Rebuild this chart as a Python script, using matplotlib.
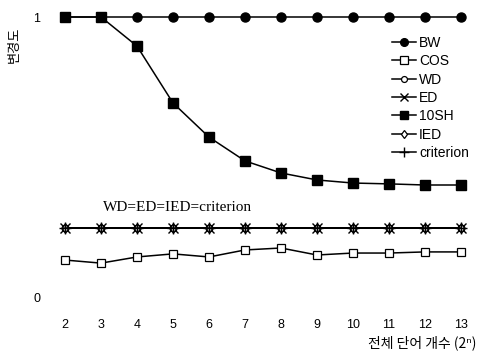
import numpy as np
import matplotlib.pyplot as plt

plt.rcParams['font.family'] = ['Liberation Sans', 'DejaVu Sans']

# word count exponent (2^n)
x = [2, 3, 4, 5, 6, 7, 8, 9, 10, 11, 12, 13]

bw = [1.0] * 12
cos = [0.132, 0.121, 0.143, 0.154, 0.143, 0.168, 0.175, 0.150, 0.157, 0.157, 0.161, 0.161]
wd = [0.246] * 12
ed = [0.246] * 12
sh10 = [1.0, 1.0, 0.896, 0.693, 0.571, 0.486, 0.443, 0.418, 0.407, 0.404, 0.400, 0.400]
ied = [0.246] * 12
criterion = [0.246] * 12

fig = plt.figure(figsize=(4.81, 3.57), dpi=100)
ax = fig.add_axes([47 / 481, 46 / 357, 432 / 481, 308 / 357])

lw = 1.1
ax.plot(x, bw, color='black', lw=lw, marker='o', ms=6.5, label='BW', clip_on=False)
ax.plot(x, cos, color='black', lw=lw, marker='s', ms=6, mfc='white', mew=0.9, label='COS')
ax.plot(x, wd, color='black', lw=lw, marker='o', ms=5, mfc='white', mew=0.9, label='WD')
ax.plot(x, ed, color='black', lw=lw, marker='x', ms=7.5, mew=1.0, label='ED')
ax.plot(x, sh10, color='black', lw=lw, marker='s', ms=6.5, label='10SH', clip_on=False)
ax.plot(x, ied, color='black', lw=lw, marker='d', ms=5, mfc='white', mew=0.9, label='IED')
ax.plot(x, criterion, color='black', lw=lw, marker='+', ms=9, mew=1.0, label='criterion')

ax.set_xlim(1.5, 13.5)
ax.set_ylim(-0.05, 1.05)
ax.set_xticks(x)
ax.set_yticks([0, 1], ['0', '1'])
ax.tick_params(length=0, labelsize=9, colors='black')
ax.tick_params(axis='x', pad=6)
ax.tick_params(axis='y', pad=5)
for s in ax.spines.values():
    s.set_visible(False)

ax.text(3.05, 0.32, 'WD=ED=IED=criterion', family=['Liberation Serif', 'DejaVu Serif'],
        fontsize=11, ha='left', va='center')

fig.text(476 / 481, 1 - 343 / 357, '전체 단어 개수 (2ⁿ)', family=['Noto Sans CJK KR', 'DejaVu Sans'],
         fontsize=10, ha='right', va='center')
fig.text(14 / 481, 1 - 45 / 357, '변경도', family=['Noto Sans CJK KR', 'DejaVu Sans'],
         fontsize=9.5, rotation=90, ha='center', va='center')

fig.legend(loc='upper left', bbox_to_anchor=(392 / 481, 1 - 36 / 357), frameon=False,
           fontsize=10, handlelength=1.75, handletextpad=0.2, labelspacing=0.31,
           borderpad=0, borderaxespad=0, markerscale=0.85)

fig.savefig('out.png', dpi=100)
